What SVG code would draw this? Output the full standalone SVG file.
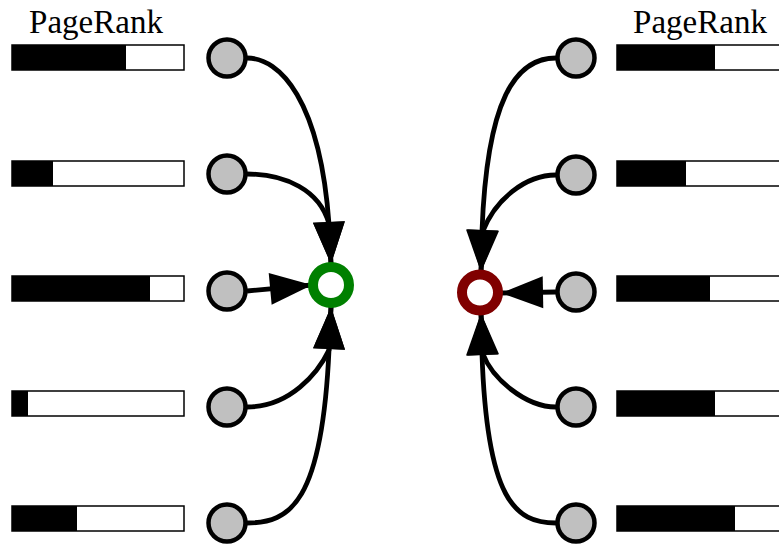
<svg xmlns="http://www.w3.org/2000/svg" width="779" height="545" viewBox="0 0 779 545">
<style>
.lbl{font-family:"Liberation Serif","Times New Roman",serif;font-size:33px;fill:#000;text-anchor:middle}
.bar{fill:#fff;stroke:#000;stroke-width:1.5}
.fill{fill:#000}
.node{fill:#c0c0c0;stroke:#000;stroke-width:4.5}
.edge{fill:none;stroke:#000;stroke-width:4.8;marker-end:url(#arr)}
</style>
<defs>
<marker id="arr" markerUnits="userSpaceOnUse" markerWidth="44" markerHeight="34" refX="42" refY="16" orient="auto" overflow="visible">
<path d="M0,0 L42,16 L0,32 z" fill="#000"/>
</marker>
</defs>
<rect width="779" height="545" fill="#fff"/>
<text class="lbl" x="96" y="33">PageRank</text>
<text class="lbl" x="700" y="33">PageRank</text>
<g id="bars-left">
<rect class="bar" x="12" y="45" width="172" height="25"/><rect class="fill" x="12" y="45" width="114" height="25"/>
<rect class="bar" x="12" y="161" width="172" height="25"/><rect class="fill" x="12" y="161" width="41" height="25"/>
<rect class="bar" x="12" y="276" width="172" height="25"/><rect class="fill" x="12" y="276" width="138" height="25"/>
<rect class="bar" x="12" y="391" width="172" height="25"/><rect class="fill" x="12" y="391" width="16" height="25"/>
<rect class="bar" x="12" y="506" width="172" height="25"/><rect class="fill" x="12" y="506" width="65" height="25"/>
</g>
<g id="bars-right">
<rect class="bar" x="617" y="45" width="172" height="25"/><rect class="fill" x="617" y="45" width="98" height="25"/>
<rect class="bar" x="617" y="161" width="172" height="25"/><rect class="fill" x="617" y="161" width="69" height="25"/>
<rect class="bar" x="617" y="276" width="172" height="25"/><rect class="fill" x="617" y="276" width="93" height="25"/>
<rect class="bar" x="617" y="391" width="172" height="25"/><rect class="fill" x="617" y="391" width="98" height="25"/>
<rect class="bar" x="617" y="506" width="172" height="25"/><rect class="fill" x="617" y="506" width="118" height="25"/>
</g>
<g id="connectors">
<path class="edge" d="M247,58 C280,58 320,100 329,224 L331,264"/>
<path class="edge" d="M247,174 C285,174 320,190 329,224 L331,264"/>
<path class="edge" d="M247,291 L312,285"/>
<path class="edge" d="M247,407 C290,407 318,373 329,350 L331,307"/>
<path class="edge" d="M247,523 C290,523 322,503 329,350 L331,307"/>
<path class="edge" d="M556,58 C515,58 487,100 482,231 L481,272"/>
<path class="edge" d="M556,175 C525,175 495,200 483,231 L481,272"/>
<path class="edge" d="M556,292 L501,293"/>
<path class="edge" d="M556,407 C525,407 492,378 483,354 L481,313"/>
<path class="edge" d="M556,523 C515,523 487,500 482,354 L481,313"/>
</g>
<g id="n-l1"><circle class="node" cx="227" cy="58" r="18.5"/></g>
<g id="n-l2"><circle class="node" cx="227" cy="174" r="18.5"/></g>
<g id="n-l3"><circle class="node" cx="227" cy="291" r="18.5"/></g>
<g id="n-l4"><circle class="node" cx="227" cy="407" r="18.5"/></g>
<g id="n-l5"><circle class="node" cx="227" cy="523" r="18.5"/></g>
<g id="n-r1"><circle class="node" cx="576" cy="58" r="18.5"/></g>
<g id="n-r2"><circle class="node" cx="576" cy="175" r="18.5"/></g>
<g id="n-r3"><circle class="node" cx="576" cy="292" r="18.5"/></g>
<g id="n-r4"><circle class="node" cx="576" cy="407" r="18.5"/></g>
<g id="n-r5"><circle class="node" cx="576" cy="523" r="18.5"/></g>
<g id="n-green"><circle cx="331" cy="285" r="18" fill="#fff" stroke="#008000" stroke-width="10"/></g>
<g id="n-red"><circle cx="480" cy="292.5" r="18" fill="#fff" stroke="#800000" stroke-width="10"/></g>
</svg>
